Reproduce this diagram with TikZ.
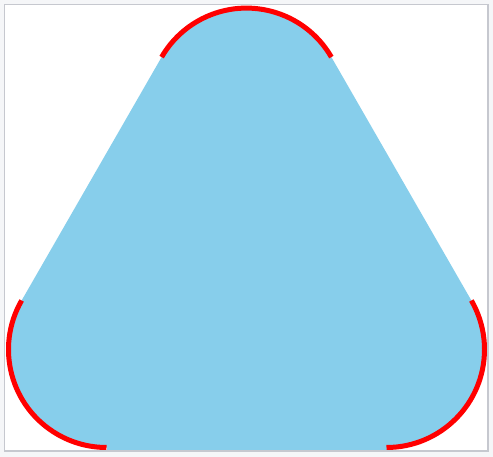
\documentclass[tikz,border=0pt]{standalone}
\usepackage{tikz}
\definecolor{skyfill}{HTML}{87CEEB}
\definecolor{framegray}{HTML}{C6C8CF}
\definecolor{pagegray}{HTML}{F5F6F8}

\begin{document}
\begin{tikzpicture}[x=1pt, y=1pt,
    corner/.style={red, line width=5pt},
    rad/.style={radius=98}]
    % Page and frame
    \useasboundingbox (0,0) rectangle (493,457);
    \fill[pagegray] (0,0) rectangle (493,457);
    \fill[white] (4.5,6) rectangle (488,452.5);

    % Corner centres
    \coordinate (bl) at (106.5,107.5);
    \coordinate (br) at (386.5,107.5);
    \coordinate (top) at (246.5,350.9);

    \begin{scope}
    \clip (4.5,6) rectangle (488,452.5);
    % Rounded triangle
    \fill[skyfill] ([shift={(-90:98)}]bl) -- ([shift={(-90:98)}]br)
        arc[start angle=-90, end angle=30, rad]
        -- ([shift={(30:98)}]top) arc[start angle=30, end angle=150, rad]
        -- ([shift={(150:98)}]bl) arc[start angle=150, end angle=270, rad]
        -- cycle;
    \fill[skyfill] ([shift={(-90:98)}]bl) rectangle ([shift={(-90:103)}]br);

    % Red corner arcs
    \draw[corner] ([shift={(150:98)}]bl) arc[start angle=150, end angle=270, rad];
    \draw[corner] ([shift={(-90:98)}]br) arc[start angle=-90, end angle=30, rad];
    \draw[corner] ([shift={(30:98)}]top) arc[start angle=30, end angle=150, rad];
    \end{scope}

    \draw[framegray, line width=1.5pt] (4.5,6) rectangle (488,452.5);
\end{tikzpicture}
\end{document}
